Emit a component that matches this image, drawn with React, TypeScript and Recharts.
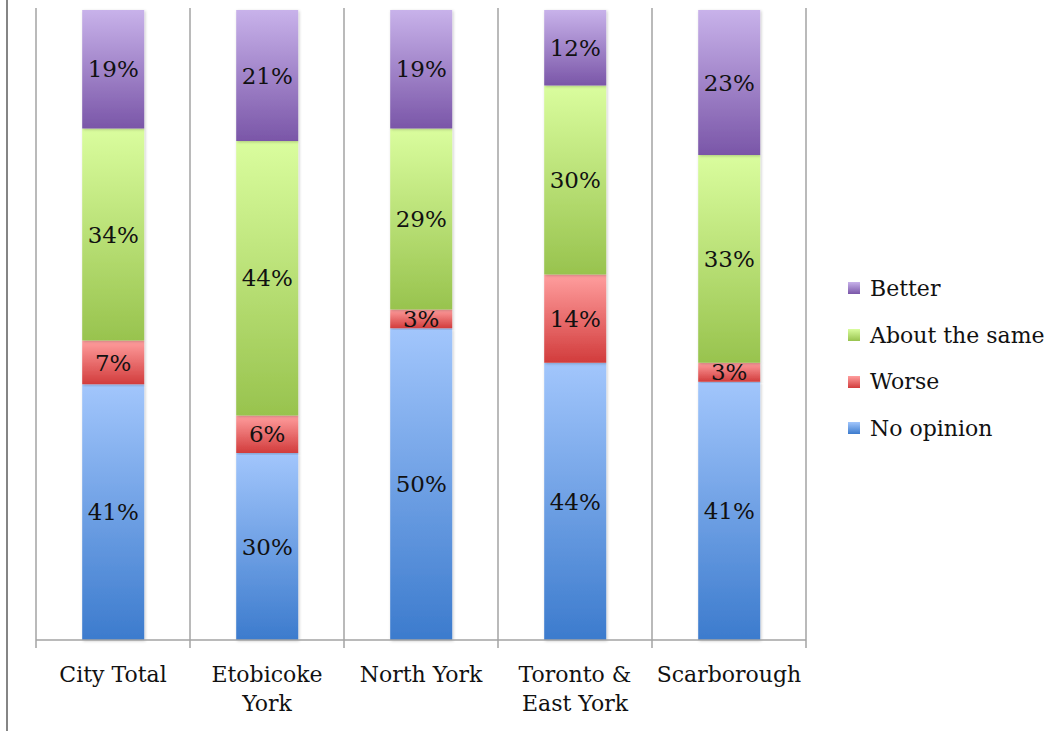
import { BarChart, Bar, XAxis, YAxis, CartesianGrid, Legend, LabelList, ReferenceLine } from "recharts";

// category names, broken where the axis wraps them
const regionLines = [["City Total"], ["Etobicoke", "York"], ["North York"], ["Toronto &", "East York"], ["Scarborough"]];
const regions = regionLines.map((lines) => lines.join(" "));

const noOpinion = [41, 30, 50, 44, 41];
const worse = [7, 6, 3, 14, 3];
const aboutSame = [34, 44, 29, 30, 33];
const better = [19, 21, 19, 12, 23];

// stacked bottom to top
const series = [
  { key: "noOpinion", name: "No opinion", values: noOpinion, top: "#a2c6fc", bottom: "#3c7bcd" },
  { key: "worse", name: "Worse", values: worse, top: "#ff9e9e", bottom: "#d23c3c" },
  { key: "aboutSame", name: "About the same", values: aboutSame, top: "#dafd9e", bottom: "#98c34e" },
  { key: "better", name: "Better", values: better, top: "#c8b2ea", bottom: "#7a56a8" },
];

// each column is scaled to its own total (100% stacked), labels keep the raw percentages
const data = regions.map((region, i) => {
  const total = series.reduce((sum, s) => sum + s.values[i], 0);
  const row: Record<string, any> = { region };
  series.forEach((s) => {
    row[s.key] = s.values[i];
    row[`${s.key}Share`] = s.values[i] / total;
  });
  return row;
});

const FONT = "'DejaVu Serif', serif";

function RegionTick(props: any) {
  const { x, y, payload } = props;
  const lines = regionLines[regions.indexOf(payload.value)] ?? [payload.value];
  return (
    <text x={x} y={y} textAnchor="middle" fontSize={22} fontFamily={FONT} fill="#111">
      {lines.map((line, i) => (
        <tspan key={line} x={x} dy={i === 0 ? "0.71em" : 29}>
          {line}
        </tspan>
      ))}
    </text>
  );
}

function LegendBox() {
  return (
    <div style={{ fontFamily: FONT, fontSize: 22, color: "#111" }}>
      {[...series].reverse().map((s) => (
        <div key={s.key} style={{ height: 46.7, display: "flex", alignItems: "center", whiteSpace: "nowrap" }}>
          <span
            style={{
              display: "inline-block",
              width: 12,
              height: 12,
              marginRight: 10,
              background: `linear-gradient(${s.top}, ${s.bottom})`,
            }}
          />
          {s.name}
        </div>
      ))}
    </div>
  );
}

// grid lines sit on the category boundaries, not the centres
const boundaryLines = ({ offset }: any) =>
  Array.from({ length: regions.length + 1 }, (_, i) => offset.left + (i * offset.width) / regions.length);

export default function App() {
  return (
    <div style={{ position: "absolute", left: 0, top: 0, width: 1062, height: 731, background: "#fff" }}>
      <div style={{ position: "absolute", left: 6, top: 0, width: 2, height: 731, background: "#858585" }} />
      <BarChart
        width={1062}
        height={731}
        data={data}
        barCategoryGap="30%"
        margin={{ top: 8, right: 256, bottom: 23, left: 36 }}
      >
        <defs>
          {series.map((s) => (
            <linearGradient key={s.key} id={`grad-${s.key}`} x1="0" y1="0" x2="0" y2="1">
              <stop offset="0%" stopColor={s.top} />
              <stop offset="100%" stopColor={s.bottom} />
            </linearGradient>
          ))}
          <filter id="barShadow" x="-20%" y="-5%" width="140%" height="110%">
            <feDropShadow dx="1" dy="1" stdDeviation="1.5" floodColor="#000" floodOpacity="0.22" />
          </filter>
        </defs>
        <CartesianGrid
          horizontal={false}
          stroke="#a3a3a3"
          strokeWidth={1.5}
          verticalCoordinatesGenerator={boundaryLines}
        />
        <XAxis
          dataKey="region"
          axisLine={false}
          tickLine={false}
          tickSize={6}
          tickMargin={12}
          height={60}
          interval={0}
          tick={<RegionTick />}
        />
        {/* small overshoot below zero and above one so the grid runs past the bars like tick marks */}
        <YAxis hide type="number" domain={[-0.0127, 1.0032]} allowDataOverflow />
        <ReferenceLine y={0} stroke="#a3a3a3" strokeWidth={1.5} />
        {series.map((s) => (
          <Bar
            key={s.key}
            dataKey={`${s.key}Share`}
            name={s.name}
            stackId="a"
            fill={`url(#grad-${s.key})`}
            filter="url(#barShadow)"
            isAnimationActive={false}
          >
            <LabelList
              dataKey={s.key}
              position="center"
              formatter={(v: any) => `${v}%`}
              style={{ fontFamily: FONT, fontSize: 23, fill: "#111" }}
            />
          </Bar>
        ))}
        <Legend
          layout="vertical"
          align="center"
          verticalAlign="middle"
          content={<LegendBox />}
          wrapperStyle={{ left: 848, top: 265, width: 214 }}
        />
      </BarChart>
    </div>
  );
}
